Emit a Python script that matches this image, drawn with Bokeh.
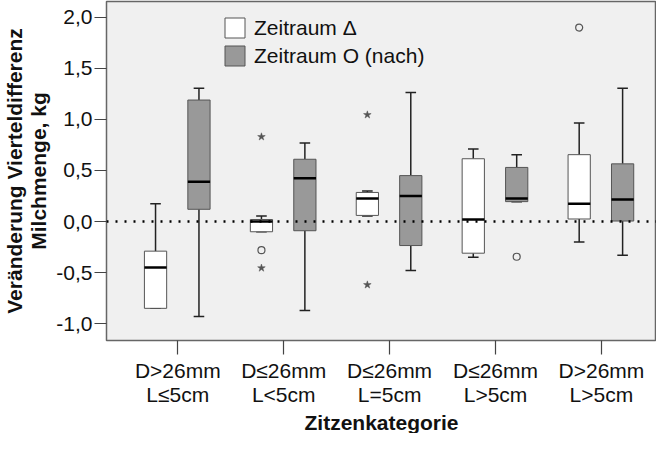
from bokeh.plotting import figure
from bokeh.models import FixedTicker, Legend, LegendItem, Range1d, Span, Title
from bokeh.embed import file_html
from bokeh.resources import INLINE

# ---- data ----
categories = ["D>26mm\nL\u22645cm", "D\u226426mm\nL<5cm", "D\u226426mm\nL=5cm",
              "D\u226426mm\nL>5cm", "D>26mm\nL>5cm"]
cat_pos = [0, 1, 2, 3, 4]
x_title = "Zitzenkategorie"
y_title = "Ver\u00e4nderung Vierteldifferenz\nMilchmenge, kg"

# Zeitraum Δ (white boxes)
d_lower = [-0.85, -0.10, 0.055, -0.35, -0.20]
d_q1 = [-0.85, -0.10, 0.06, -0.31, 0.025]
d_median = [-0.45, 0.0, 0.225, 0.02, 0.175]
d_q3 = [-0.29, 0.02, 0.285, 0.615, 0.655]
d_upper = [0.175, 0.055, 0.30, 0.71, 0.965]

# Zeitraum O (nach) (grey boxes)
o_lower = [-0.93, -0.87, -0.48, 0.195, -0.33]
o_q1 = [0.12, -0.09, -0.235, 0.195, 0.005]
o_median = [0.39, 0.425, 0.25, 0.225, 0.215]
o_q3 = [1.19, 0.61, 0.45, 0.53, 0.565]
o_upper = [1.305, 0.77, 1.265, 0.655, 1.305]

# outliers: (category index, value)
d_circle_cat = [1, 4]
d_circle_val = [-0.28, 1.90]
d_star_cat = [1, 1, 2, 2]
d_star_val = [0.83, -0.455, 1.045, -0.62]
o_circle_cat = [3]
o_circle_val = [-0.345]

y_ticks = [-1.0, -0.5, 0.0, 0.5, 1.0, 1.5, 2.0]
y_tick_labels = ["-1,0", "-0,5", "0,0", "0,5", "1,0", "1,5", "2,0"]

# ---- styling ----
FONT = "Liberation Sans"
OFF_D, OFF_O = -0.21, 0.20
BOX_W = 0.21
CAP_W = 0.10

p = figure(width=656, height=433, output_backend="svg", toolbar_location=None,
           x_range=Range1d(-0.673, 4.52), y_range=Range1d(-1.165, 2.155),
           min_border_left=98, min_border_right=0, min_border_top=1, min_border_bottom=20)
p.background_fill_color = "#f0f0f0"
p.border_fill_color = "white"
p.outline_line_color = "#666666"
p.outline_line_width = 1.5
p.grid.visible = False


def draw_group(off, lower, q1, med, q3, upper, fill):
    xs = [c + off for c in cat_pos]
    # whiskers
    p.segment(x0=xs, x1=xs, y0=q3, y1=upper, line_color="#222222", line_width=1.5)
    p.segment(x0=xs, x1=xs, y0=lower, y1=q1, line_color="#222222", line_width=1.5)
    p.segment(x0=[x - CAP_W / 2 for x in xs], x1=[x + CAP_W / 2 for x in xs],
              y0=upper, y1=upper, line_color="#222222", line_width=1.5)
    p.segment(x0=[x - CAP_W / 2 for x in xs], x1=[x + CAP_W / 2 for x in xs],
              y0=lower, y1=lower, line_color="#222222", line_width=1.5)
    box = p.vbar(x=xs, width=BOX_W, bottom=q1, top=q3, fill_color=fill,
                 line_color="#555555", line_width=1)
    p.segment(x0=[x - BOX_W / 2 for x in xs], x1=[x + BOX_W / 2 for x in xs],
              y0=med, y1=med, line_color="black", line_width=2.5)
    return box


w_box = draw_group(OFF_D, d_lower, d_q1, d_median, d_q3, d_upper, "white")
g_box = draw_group(OFF_O, o_lower, o_q1, o_median, o_q3, o_upper, "#999999")

p.scatter(x=[c + OFF_D for c in d_circle_cat], y=d_circle_val, marker="circle", size=7,
          fill_color=None, line_color="#555555", line_width=1.2)
p.scatter(x=[c + OFF_O for c in o_circle_cat], y=o_circle_val, marker="circle", size=7,
          fill_color=None, line_color="#555555", line_width=1.2)
p.scatter(x=[c + OFF_D for c in d_star_cat], y=d_star_val, marker="star", size=8,
          fill_color="#555555", line_color="#555555", line_width=0.5)

p.add_layout(Span(location=0, dimension="width", line_color="black", line_width=2.5,
                  line_dash="2 7"))

# axes
p.xaxis.ticker = FixedTicker(ticks=cat_pos)
p.xaxis.major_label_overrides = {c: lab for c, lab in zip(cat_pos, categories)}
p.yaxis.ticker = FixedTicker(ticks=y_ticks)
p.yaxis.major_label_overrides = {t: lab for t, lab in zip(y_ticks, y_tick_labels)}
for ax in (p.xaxis[0], p.yaxis[0]):
    ax.axis_line_color = None
    ax.major_tick_in = 0
    ax.minor_tick_line_color = None
    ax.major_tick_line_color = "#444444"
    ax.major_tick_line_width = 1.2
    ax.major_label_text_font = FONT
    ax.major_label_text_font_size = "21px"
    ax.major_label_text_color = "#111111"
    ax.major_label_text_line_height = 1.05
    ax.axis_label_text_font = FONT
    ax.axis_label_text_font_size = "21px"
    ax.axis_label_text_font_style = "bold"
    ax.axis_label_text_color = "#111111"
    ax.axis_label_text_line_height = 1.05
p.xaxis.major_tick_out = 14
p.xaxis.major_label_standoff = 4
p.yaxis.major_tick_out = 12
p.yaxis.major_label_standoff = 2
p.yaxis.axis_label = y_title
p.yaxis.axis_label_standoff = 3

# x-axis title as a title below the axis
p.add_layout(Title(text=x_title, align="center", offset=8, standoff=0,
                   text_font=FONT, text_font_size="21px", text_font_style="bold",
                   text_color="#111111", text_line_height=1.0), "below")

legend = Legend(items=[LegendItem(label="Zeitraum \u0394", renderers=[w_box]),
                       LegendItem(label="Zeitraum O (nach)", renderers=[g_box])],
                location=(116, 272), glyph_width=25, glyph_height=25, label_standoff=7,
                spacing=3, padding=0, margin=0, border_line_alpha=0,
                background_fill_alpha=0, label_text_font=FONT,
                label_text_font_size="21px", label_text_color="#111111")
p.add_layout(legend)

open("out.html", "w").write(file_html(p, INLINE))
